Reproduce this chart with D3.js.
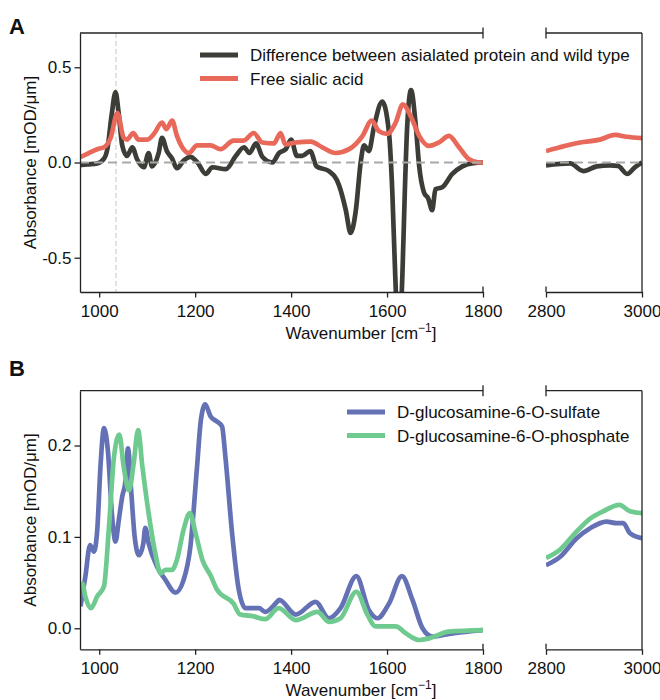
<!DOCTYPE html>
<html lang="en">
<head>
<meta charset="utf-8">
<title>IR spectra</title>
<script src="https://cdn.jsdelivr.net/npm/d3@7"></script>
<style>
  body { margin: 0; background: #fff; }
  svg text { font-family: "Liberation Sans", Arial, sans-serif; fill: #111; }
  .axis path, .axis line { stroke: #222; stroke-width: 1.3; }
  .axis text { font-size: 17px; }
</style>
</head>
<body>
<script>
// ---- data: [wavenumber, absorbance] ----
var diffSpec = [[958,-0.015],[975,-0.01],[996,-0.005],[1010,0.02],[1017,0.07],[1026,0.25],[1034,0.37],[1041,0.25],[1048,0.09],[1058,0.035],[1069,0.08],[1079,0.017],[1093,-0.025],[1103,0.05],[1110,-0.02],[1124,0.05],[1131,0.13],[1141,0.06],[1152,0.02],[1162,-0.03],[1176,0.01],[1190,0.03],[1205,0.0],[1222,-0.06],[1236,-0.025],[1264,-0.035],[1285,0.035],[1302,0.08],[1313,0.05],[1327,0.1],[1340,0.03],[1361,0.0],[1375,0.05],[1389,0.07],[1400,0.12],[1412,0.035],[1423,0.035],[1440,0.06],[1453,-0.02],[1479,-0.045],[1500,-0.12],[1514,-0.25],[1524,-0.37],[1535,-0.25],[1545,0.0],[1552,0.09],[1562,0.06],[1573,0.19],[1590,0.32],[1604,0.157],[1611,-0.157],[1617,-0.59],[1624,-0.95],[1632,-0.59],[1637,-0.157],[1642,0.19],[1650,0.38],[1660,0.19],[1667,-0.02],[1677,-0.157],[1686,-0.19],[1694,-0.25],[1701,-0.14],[1715,-0.13],[1736,-0.06],[1757,-0.02],[1780,-0.003],[1800,0.0],
  [2800,-0.015],[2850,-0.005],[2878,-0.045],[2906,-0.02],[2933,-0.015],[2950,-0.018],[2969,-0.06],[2985,-0.025],[3000,0.0]];
var sialicSpec = [[958,0.025],[975,0.045],[996,0.07],[1010,0.08],[1024,0.13],[1038,0.26],[1051,0.13],[1058,0.12],[1071,0.155],[1082,0.12],[1100,0.12],[1114,0.15],[1131,0.21],[1140,0.175],[1152,0.22],[1162,0.14],[1173,0.08],[1187,0.05],[1204,0.09],[1232,0.09],[1253,0.07],[1280,0.115],[1301,0.115],[1322,0.155],[1340,0.105],[1364,0.1],[1378,0.155],[1388,0.095],[1410,0.105],[1441,0.11],[1465,0.08],[1493,0.05],[1521,0.07],[1549,0.14],[1568,0.22],[1583,0.165],[1600,0.15],[1618,0.21],[1633,0.305],[1649,0.245],[1667,0.14],[1687,0.087],[1708,0.105],[1729,0.14],[1750,0.08],[1771,0.017],[1792,0.0],[1800,0.0],
  [2800,0.06],[2829,0.08],[2871,0.105],[2912,0.12],[2944,0.145],[2968,0.135],[3000,0.128]];
var sulfateSpec = [[961,0.024],[971,0.056],[981,0.091],[989,0.084],[996,0.108],[1003,0.18],[1010,0.219],[1018,0.195],[1027,0.122],[1034,0.095],[1041,0.119],[1048,0.144],[1055,0.162],[1060,0.197],[1067,0.148],[1074,0.1],[1083,0.08],[1092,0.093],[1096,0.11],[1103,0.093],[1121,0.067],[1138,0.053],[1159,0.039],[1176,0.053],[1190,0.089],[1204,0.177],[1212,0.228],[1221,0.245],[1232,0.232],[1246,0.226],[1256,0.221],[1263,0.188],[1277,0.104],[1291,0.042],[1305,0.022],[1333,0.022],[1346,0.018],[1371,0.029],[1375,0.031],[1410,0.015],[1451,0.029],[1479,0.011],[1503,0.022],[1536,0.057],[1562,0.02],[1580,0.011],[1604,0.027],[1631,0.057],[1653,0.031],[1674,0.0],[1694,-0.009],[1736,-0.0055],[1800,-0.002],
  [2800,0.069],[2829,0.078],[2864,0.0986],[2892,0.1095],[2926,0.1168],[2947,0.115],[2961,0.115],[2975,0.104],[3000,0.0986]];
var phosphateSpec = [[961,0.045],[965,0.049],[971,0.035],[983,0.022],[996,0.035],[1010,0.046],[1020,0.108],[1031,0.188],[1042,0.212],[1051,0.177],[1062,0.151],[1072,0.181],[1081,0.217],[1090,0.177],[1103,0.126],[1117,0.082],[1128,0.06],[1138,0.064],[1152,0.064],[1162,0.075],[1176,0.108],[1189,0.126],[1201,0.104],[1215,0.075],[1232,0.058],[1246,0.042],[1280,0.027],[1294,0.015],[1322,0.013],[1346,0.01],[1374,0.022],[1410,0.009],[1455,0.018],[1479,0.007],[1503,0.011],[1536,0.04],[1559,0.015],[1576,0.002],[1618,0.002],[1639,-0.0055],[1667,-0.0128],[1688,-0.011],[1729,-0.0037],[1800,-0.002],
  [2800,0.077],[2829,0.086],[2857,0.102],[2892,0.12],[2919,0.128],[2953,0.135],[2975,0.128],[3000,0.126]];

var midTicks = [1000, 1200, 1400, 1600, 1800];
var highTicks = [2800, 3000];
var ticksA = [-0.5, 0.0, 0.5];
var ticksB = [0.0, 0.1, 0.2];
var markerWn = 1035;

var w = 660, h = 700;
var svg = d3.select("body").append("svg").attr("width", w).attr("height", h);

var xMid = d3.scaleLinear().domain([960, 1800]).range([80, 483]);
var xHigh = d3.scaleLinear().domain([2800, 3000]).range([546, 642]);

var panels = [
  { id: "A", top: 33, bottom: 292, domain: [-0.68, 0.68], ticks: ticksA, fmt: d3.format(".1f"),
    series: [{ data: diffSpec, color: "#3d3d38", name: "Difference between asialated protein and wild type" },
             { data: sialicSpec, color: "#e8695a", name: "Free sialic acid" }],
    legend: { x1: 200, x2: 238, tx: 250, y: 55 } },
  { id: "B", top: 390.7, bottom: 649.3, domain: [-0.023, 0.26], ticks: ticksB, fmt: d3.format(".1f"),
    series: [{ data: sulfateSpec, color: "#6571b5", name: "D-glucosamine-6-O-sulfate" },
             { data: phosphateSpec, color: "#6fca8f", name: "D-glucosamine-6-O-phosphate" }],
    legend: { x1: 347, x2: 385, tx: 397, y: 412 } }
];

panels.forEach(function(p) {
  var y = d3.scaleLinear().domain(p.domain).range([p.bottom, p.top]);
  var g = svg.append("g");

  // clip regions for the two broken-axis parts
  [["mid", xMid], ["high", xHigh]].forEach(function(r) {
    svg.append("clipPath").attr("id", "clip" + p.id + r[0])
      .append("rect")
      .attr("x", r[1].range()[0]).attr("y", p.top)
      .attr("width", r[1].range()[1] - r[1].range()[0])
      .attr("height", p.bottom - p.top);
  });

  if (p.id === "A") {
    g.append("line")
      .attr("x1", xMid(markerWn)).attr("x2", xMid(markerWn))
      .attr("y1", p.top).attr("y2", p.bottom)
      .attr("stroke", "#cfcfcf").attr("stroke-width", 1.2)
      .attr("stroke-dasharray", "5,3");
  }

  p.series.forEach(function(s) {
    [["mid", xMid, function(d) { return d[0] <= 1800; }],
     ["high", xHigh, function(d) { return d[0] >= 2800; }]].forEach(function(r) {
      var line = d3.line()
        .x(function(d) { return r[1](d[0]); })
        .y(function(d) { return y(d[1]); })
        .curve(d3.curveMonotoneX);
      g.append("path")
        .datum(s.data.filter(r[2]))
        .attr("clip-path", "url(#clip" + p.id + r[0] + ")")
        .attr("d", line)
        .attr("fill", "none")
        .attr("stroke", s.color)
        .attr("stroke-width", 4.7)
        .attr("stroke-linejoin", "round");
    });
  });

  if (p.id === "A") {
    [xMid, xHigh].forEach(function(sc) {
      g.append("line")
        .attr("x1", sc.range()[0]).attr("x2", sc.range()[1])
        .attr("y1", y(0)).attr("y2", y(0))
        .attr("stroke", "#a9a9a9").attr("stroke-width", 2.2)
        .attr("stroke-dasharray", "9,5");
    });
  }

  // axes
  var xAxisMid = d3.axisBottom(xMid).tickValues(midTicks).tickFormat(d3.format("d"))
    .tickSize(5.5).tickPadding(7).tickSizeOuter(0);
  var xAxisHigh = d3.axisBottom(xHigh).tickValues(highTicks).tickFormat(d3.format("d"))
    .tickSize(5.5).tickPadding(7).tickSizeOuter(0);
  g.append("g").attr("class", "axis").attr("transform", "translate(0," + p.bottom + ")").call(xAxisMid);
  g.append("g").attr("class", "axis").attr("transform", "translate(0," + p.bottom + ")").call(xAxisHigh);

  var yAxis = d3.axisLeft(y).tickValues(p.ticks)
    .tickFormat(function(d) { return d < 0 ? "-" + p.fmt(-d) : p.fmt(d); })
    .tickSize(5.5).tickPadding(3).tickSizeOuter(0);
  g.append("g").attr("class", "axis").attr("transform", "translate(80,0)").call(yAxis);

  // remaining spines
  var spine = function(x1, y1, x2, y2) {
    g.append("line").attr("x1", x1).attr("y1", y1).attr("x2", x2).attr("y2", y2)
      .attr("stroke", "#222").attr("stroke-width", 1.3);
  };
  spine(80, p.top, 483, p.top);
  spine(546, p.top, 642, p.top);
  spine(642, p.top, 642, p.bottom);
  // break marks
  [483, 546].forEach(function(bx) {
    spine(bx, p.top - 5.5, bx, p.top + 5.5);
    spine(bx, p.bottom - 5.5, bx, p.bottom);
  });

  // axis titles
  var xl = svg.append("text")
    .attr("x", 361).attr("y", p.bottom + 47)
    .attr("text-anchor", "middle").style("font-size", "17px");
  xl.append("tspan").text("Wavenumber [cm");
  xl.append("tspan").attr("dy", -7).style("font-size", "12px").text("\u22121");
  xl.append("tspan").attr("dy", 7).text("]");

  svg.append("text")
    .attr("transform", "translate(36," + ((p.top + p.bottom) / 2) + ") rotate(-90)")
    .attr("text-anchor", "middle").style("font-size", "17px")
    .text("Absorbance [mOD/\u03bcm]");

  svg.append("text")
    .attr("x", 9).attr("y", p.id === "A" ? 34 : 376)
    .style("font-size", "22px").style("font-weight", "bold")
    .text(p.id);

  // legend
  p.series.forEach(function(s, i) {
    var ly = p.legend.y + i * 23.5;
    g.append("line").attr("x1", p.legend.x1).attr("x2", p.legend.x2)
      .attr("y1", ly).attr("y2", ly)
      .attr("stroke", s.color).attr("stroke-width", 5);
    g.append("text").attr("x", p.legend.tx).attr("y", ly + 6)
      .style("font-size", "17px").text(s.name);
  });
});
</script>
</body>
</html>
